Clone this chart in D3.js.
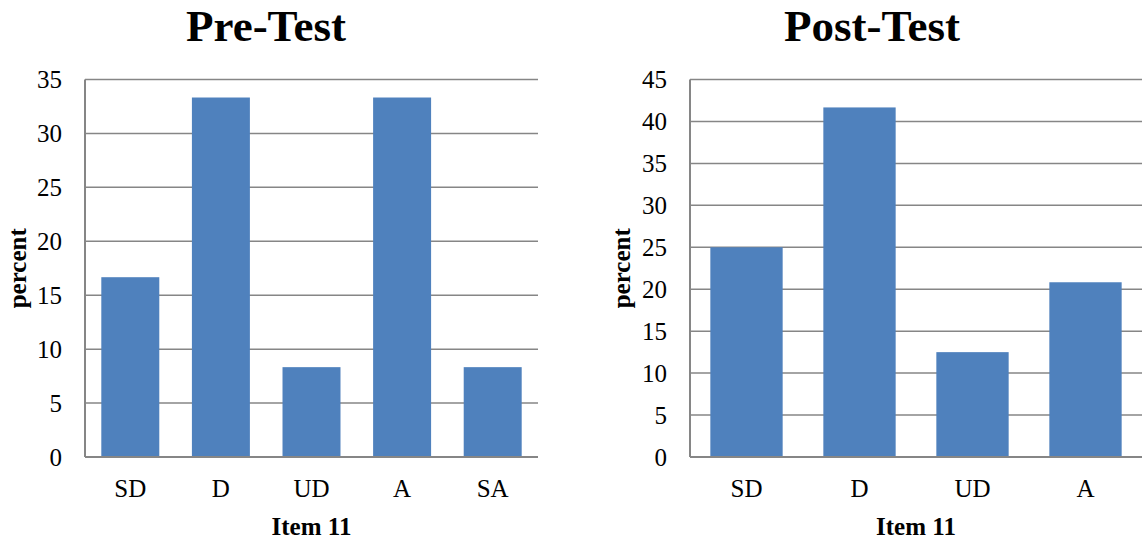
<!DOCTYPE html>
<html><head><meta charset="utf-8">
<script src="https://cdn.jsdelivr.net/npm/d3@7"></script>
<style>body{margin:0;background:#fff}</style>
</head><body>
<svg id="c" width="1144" height="541"></svg>
<script>
const preCategories = ["SD","D","UD","A","SA"];
const preValues = [16.67, 33.33, 8.33, 33.33, 8.33];
const preTicks = [0,5,10,15,20,25,30,35];
const postCategories = ["SD","D","UD","A"];
const postValues = [25, 41.67, 12.5, 20.83];
const postTicks = [0,5,10,15,20,25,30,35,40,45];
const titles = ["Pre-Test","Post-Test"];
const xTitle = "Item 11";
const yTitle = "percent";

const svg = d3.select("#c");
const font = "'Liberation Serif', 'Times New Roman', serif";
const gridColor = "#868686";
const barColor = "#4F81BD";

function panel(opts){
  const {x0,x1,y0,y1,cats,vals,ticks,title,yLabelX,titleX} = opts;
  const g = svg.append("g");
  const x = d3.scaleBand().domain(cats).range([x0,x1]).paddingInner(0.36).paddingOuter(0.18);
  const y = d3.scaleLinear().domain([0, d3.max(ticks)]).range([y1,y0]);
  g.selectAll("line.grid").data(ticks.filter(t=>t>0)).join("line")
    .attr("x1",x0).attr("x2",x1).attr("y1",d=>y(d)).attr("y2",d=>y(d))
    .attr("stroke",gridColor).attr("stroke-width",1.5);
  g.selectAll("rect").data(cats).join("rect")
    .attr("x",d=>x(d)).attr("width",x.bandwidth())
    .attr("y",(d,i)=>y(vals[i])).attr("height",(d,i)=>y(0)-y(vals[i]))
    .attr("fill",barColor);
  g.append("line").attr("x1",x0).attr("x2",x0).attr("y1",y0).attr("y2",y1)
    .attr("stroke",gridColor).attr("stroke-width",2);
  g.append("line").attr("x1",x0).attr("x2",x1).attr("y1",y1).attr("y2",y1)
    .attr("stroke",gridColor).attr("stroke-width",2);
  g.selectAll("text.yt").data(ticks).join("text")
    .attr("x",x0-23).attr("y",d=>y(d)).attr("dy","0.35em")
    .attr("text-anchor","end").attr("font-family",font).attr("font-size",25)
    .text(d=>d);
  g.selectAll("text.xt").data(cats).join("text")
    .attr("x",d=>x(d)+x.bandwidth()/2).attr("y",y1+40)
    .attr("text-anchor","middle").attr("font-family",font).attr("font-size",25)
    .text(d=>d);
  g.append("text").attr("x",(x0+x1)/2).attr("y",535)
    .attr("text-anchor","middle").attr("font-family",font).attr("font-size",25).attr("font-weight","bold")
    .text(xTitle);
  g.append("text").attr("transform",`translate(${yLabelX},${(y0+y1)/2}) rotate(-90)`)
    .attr("text-anchor","middle").attr("font-family",font).attr("font-size",25).attr("font-weight","bold")
    .text(yTitle);
  g.append("text").attr("x",titleX).attr("y",41)
    .attr("text-anchor","middle").attr("font-family",font).attr("font-size",45).attr("font-weight","bold")
    .text(title);
}
panel({x0:85,x1:538,y0:79.5,y1:457,cats:preCategories,vals:preValues,ticks:preTicks,title:titles[0],yLabelX:26,titleX:266});
panel({x0:690,x1:1142,y0:79.5,y1:457,cats:postCategories,vals:postValues,ticks:postTicks,title:titles[1],yLabelX:630,titleX:872});
</script>
</body></html>
